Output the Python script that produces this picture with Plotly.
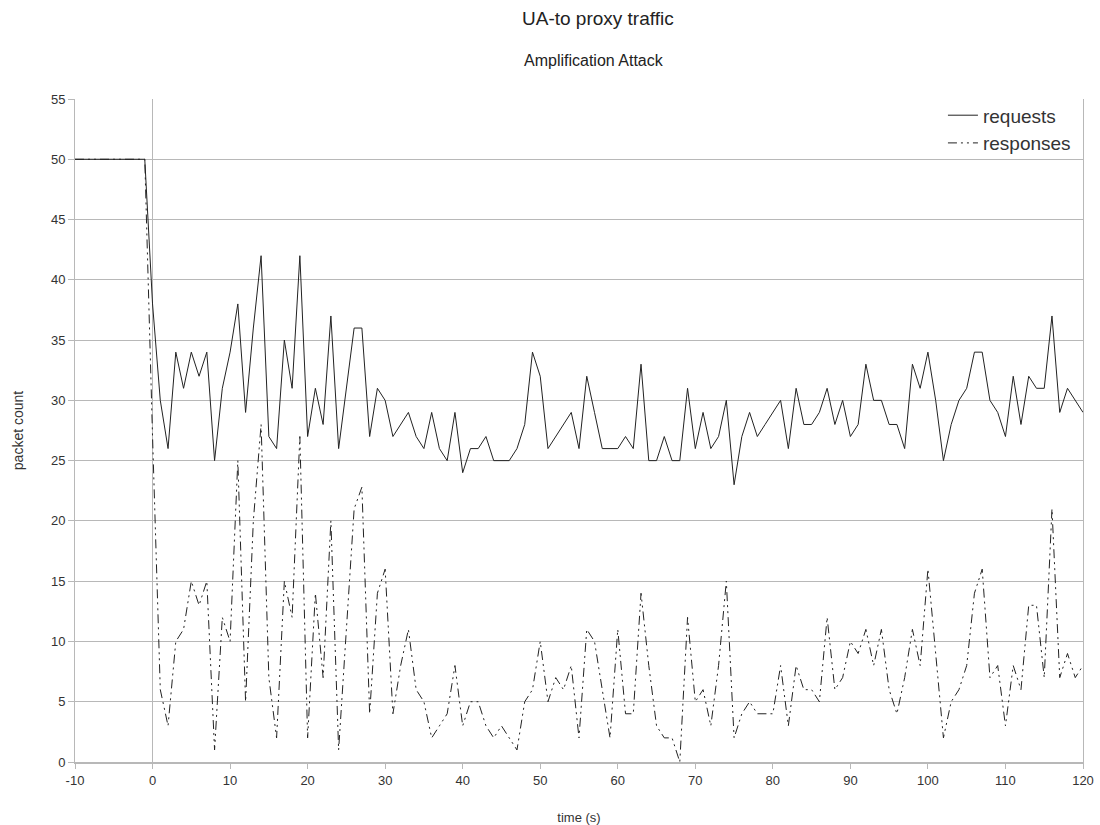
import plotly.graph_objects as go

# time axis, one sample per second
time_s = list(range(-10, 121))

requests = [
    50, 50, 50, 50, 50, 50, 50, 50, 50, 50,          # -10 .. -1
    38, 30, 26, 34, 31, 34, 32, 34, 25, 31,          # 0 .. 9
    34, 38, 29, 36, 42, 27, 26, 35, 31, 42,          # 10 .. 19
    27, 31, 28, 37, 26, 31, 36, 36, 27, 31,          # 20 .. 29
    30, 27, 28, 29, 27, 26, 29, 26, 25, 29,          # 30 .. 39
    24, 26, 26, 27, 25, 25, 25, 26, 28, 34,          # 40 .. 49
    32, 26, 27, 28, 29, 26, 32, 29, 26, 26,          # 50 .. 59
    26, 27, 26, 33, 25, 25, 27, 25, 25, 31,          # 60 .. 69
    26, 29, 26, 27, 30, 23, 27, 29, 27, 28,          # 70 .. 79
    29, 30, 26, 31, 28, 28, 29, 31, 28, 30,          # 80 .. 89
    27, 28, 33, 30, 30, 28, 28, 26, 33, 31,          # 90 .. 99
    34, 30, 25, 28, 30, 31, 34, 34, 30, 29,          # 100 .. 109
    27, 32, 28, 32, 31, 31, 37, 29, 31, 30,          # 110 .. 119
    29,                                              # 120
]

responses = [
    50, 50, 50, 50, 50, 50, 50, 50, 50, 50,          # -10 .. -1
    27, 6, 3, 10, 11, 15, 13, 15, 1, 12,             # 0 .. 9
    10, 25, 5, 20, 28, 7, 2, 15, 12, 27,             # 10 .. 19
    2, 14, 7, 20, 1, 11, 21, 22.8, 4, 14,            # 20 .. 29
    16, 4, 8, 11, 6, 5, 2, 3, 4, 8,                  # 30 .. 39
    3, 5, 5, 3, 2, 3, 2, 1, 5, 6,                    # 40 .. 49
    10, 5, 7, 6, 8, 2, 11, 10, 6, 2,                 # 50 .. 59
    11, 4, 4, 14, 8, 3, 2, 2, 0, 12,                 # 60 .. 69
    5, 6, 3, 8, 15, 2, 4, 5, 4, 4,                   # 70 .. 79
    4, 8, 3, 8, 6, 6, 5, 12, 6, 7,                   # 80 .. 89
    10, 9, 11, 8, 11, 6, 4, 7, 11, 8,                # 90 .. 99
    16, 9, 2, 5, 6, 8, 14, 16, 7, 8,                 # 100 .. 109
    3, 8, 6, 13, 13, 7, 21, 7, 9, 7,                 # 110 .. 119
    8,                                               # 120
]

x_ticks = list(range(-10, 121, 10))
y_ticks = list(range(0, 56, 5))

FONT = "Liberation Sans, Arial, sans-serif"
GRID = "#b8b8b8"
INK = "#222222"
TEXT = "#333333"

fig = go.Figure()
fig.add_trace(go.Scatter(
    x=time_s, y=requests, mode="lines", name="requests",
    line=dict(color=INK, width=1),
))
fig.add_trace(go.Scatter(
    x=time_s, y=responses, mode="lines", name="responses",
    line=dict(color=INK, width=1, dash="9px,4px,2px,4px,2px,4px"),
))

fig.update_layout(
    width=1100, height=825,
    margin=dict(l=75, r=17, t=99, b=63, autoexpand=False),
    paper_bgcolor="white", plot_bgcolor="white",
    font=dict(family=FONT, size=13, color=TEXT),
    showlegend=True,
    legend=dict(
        x=0.993, y=1.004, xanchor="right", yanchor="top",
        bgcolor="rgba(255,255,255,0)", borderwidth=0,
        font=dict(size=19, color=TEXT),
        itemwidth=30, tracegroupgap=0,
    ),
    xaxis=dict(
        range=[-10, 120], tickvals=x_ticks, ticktext=[str(v) for v in x_ticks],
        showgrid=False, zeroline=True, zerolinecolor=GRID, zerolinewidth=1,
        showline=True, linecolor=GRID, linewidth=2, mirror=False,
        ticks="outside", ticklen=5, tickcolor=GRID, tickwidth=1,
        tickfont=dict(size=13, color=TEXT),
        automargin=False,
        title=dict(text="time (s)", font=dict(size=13, color=TEXT), standoff=27),
    ),
    yaxis=dict(
        range=[0, 55], tickvals=y_ticks,
        showgrid=True, gridcolor=GRID, gridwidth=1,
        zeroline=False,
        showline=True, linecolor=GRID, linewidth=1, mirror=True,
        ticks="outside", ticklen=6, tickcolor=GRID,
        tickfont=dict(size=13, color=TEXT),
        automargin=False,
        title=dict(text="packet count", font=dict(size=14, color=TEXT), standoff=24),
    ),
    annotations=[
        dict(text="UA-to proxy traffic", xref="paper", yref="paper",
             x=0.519, y=1.0, yshift=81, xanchor="center", yanchor="middle",
             showarrow=False, font=dict(size=19, color="#222222")),
        dict(text="Amplification Attack", xref="paper", yref="paper",
             x=0.515, y=1.0, yshift=39, xanchor="center", yanchor="middle",
             showarrow=False, font=dict(size=16, color="#222222")),
    ],
)

fig.write_html("out.html")
